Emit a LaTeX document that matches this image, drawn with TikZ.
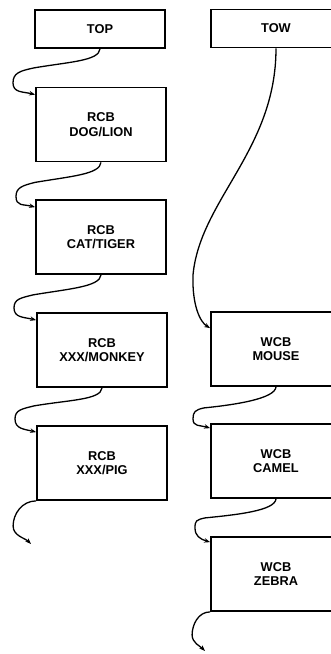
\documentclass[tikz,border=0pt]{standalone}
\usepackage{fontspec}
\setmainfont{Liberation Sans}
\usetikzlibrary{arrows.meta}

\tikzset{
  cardbox/.style={draw, line width=1.8pt, minimum width=130pt, minimum height=74pt,
    align=center, inner sep=2pt, font=\fontsize{12.8}{14.5}\selectfont\bfseries},
  headbox/.style={cardbox, minimum height=38pt},
  hook/.style={line width=1.3pt, ->}
}

\begin{document}
\begin{tikzpicture}[
  x=1pt,
  y=1pt,
  >={Stealth[length=6pt,width=4.5pt]}
]
  \useasboundingbox (0,0) rectangle (331,-654);
  \clip (0,0) rectangle (331,-654);

  % left column
  \node[headbox] (top) at (100,-29) {TOP};
  \node[cardbox] (doglion) at (101,-124.5) {RCB\\DOG/LION};
  \node[cardbox] (cattiger) at (101,-237) {RCB\\CAT/TIGER};
  \node[cardbox] (monkey) at (102,-350) {RCB\\XXX/MONKEY};
  \node[cardbox] (pig) at (102,-463) {RCB\\XXX/PIG};
  \coordinate (pigtail) at (31,-544);

  % right column, cut off by the page edge
  \node[headbox] (tow) at (276,-28.5) {TOW};
  \node[cardbox] (mouse) at (276,-349) {WCB\\MOUSE};
  \node[cardbox] (camel) at (276,-461) {WCB\\CAMEL};
  \node[cardbox] (zebra) at (276,-574) {WCB\\ZEBRA};
  \coordinate (zebratail) at (205,-651);

  % hooks down the left column
  \draw[hook] (top.south) .. controls +(-1,-12) and +(35,6) .. ++(-66,-19)
    .. controls +(-14,-3) and +(0,10) .. ++(-21,-15)
    .. controls +(0,-10) and +(-12,3) .. ([yshift=-8pt]doglion.north west);
  \draw[hook] (doglion.south) .. controls +(-1,-12) and +(35,6) .. ++(-66,-20)
    .. controls +(-12,-3) and +(0,9) .. ++(-19,-14)
    .. controls +(0,-10) and +(-12,3) .. ([yshift=-8pt]cattiger.north west);
  \draw[hook] (cattiger.south) .. controls +(-1,-12) and +(35,6) .. ++(-68,-20)
    .. controls +(-12,-3) and +(0,9) .. ++(-19,-13)
    .. controls +(0,-10) and +(-12,3) .. ([yshift=-8pt]monkey.north west);
  \draw[hook] (monkey.south) .. controls +(-1,-12) and +(35,6) .. ++(-68,-18)
    .. controls +(-12,-3) and +(0,9) .. ++(-19,-13)
    .. controls +(0,-10) and +(-12,3) .. ([yshift=-7pt]pig.north west);
  \draw[hook] (pig.south west) .. controls +(-14,0) and +(0,12) .. ++(-23,-25)
    .. controls +(0,-10) and +(-6,6) .. (pigtail);

  % right column
  \draw[hook] (tow.south) .. controls (276,-150) and (200,-200) .. (193,-275)
    .. controls (192,-305) and (200,-322) .. ([yshift=-17pt]mouse.north west);
  \draw[hook] (mouse.south) .. controls +(-1,-12) and +(30,3) .. ++(-72,-21)
    .. controls +(-9,-2) and +(0,7) .. ++(-11,-11)
    .. controls +(0,-8) and +(-10,3) .. ([yshift=-5pt]camel.north west);
  \draw[hook] (camel.south) .. controls +(-1,-12) and +(30,3) .. ++(-71,-19)
    .. controls +(-9,-2) and +(0,7) .. ++(-10,-10)
    .. controls +(0,-8) and +(-10,3) .. ([yshift=-6pt]zebra.north west);
  \draw[hook] (zebra.south west) .. controls +(-12,0) and +(0,10) .. ++(-18,-23)
    .. controls +(0,-8) and +(-5,5) .. (zebratail);
\end{tikzpicture}
\end{document}
